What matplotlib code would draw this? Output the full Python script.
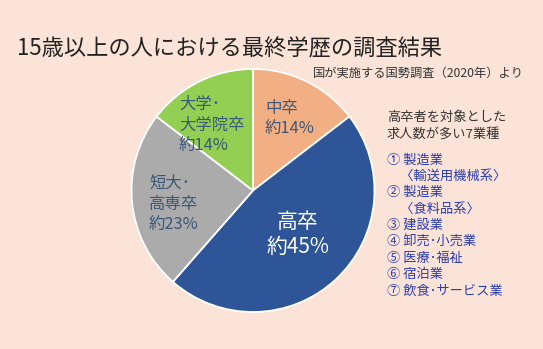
import matplotlib
matplotlib.use("Agg")
import matplotlib.pyplot as plt

plt.rcParams['font.family'] = ['Noto Sans CJK JP', 'DejaVu Sans']

# Education breakdown (percent) for people aged 15+
categories = ["中卒", "高卒", "短大･高専卒", "大学･大学院卒"]
values = [14, 45, 23, 14]
colors = ["#F2AF84", "#2D5597", "#ABABAB", "#92CF52"]

slice_labels = [
    ["中卒", "約14%"],
    ["高卒", "約45%"],
    ["短大･", "高専卒", "約23%"],
    ["大学･", "大学院卒", "約14%"],
]

title = "15歳以上の人における最終学歴の調査結果"
source = "国が実施する国勢調査（2020年）より"
note_lines = ["高卒者を対象とした", "求人数が多い7業種"]
industries = [
    "① 製造業",
    "　〈輸送用機械系〉",
    "② 製造業",
    "　〈食料品系〉",
    "③ 建設業",
    "④ 卸売･小売業",
    "⑤ 医療･福祉",
    "⑥ 宿泊業",
    "⑦ 飲食･サービス業",
]

W, H = 543, 349
BG = "#FBE4D7"
fig = plt.figure(figsize=(W / 100, H / 100), dpi=100, facecolor=BG)


def fx(x):
    return x / W


def fy(y):
    return 1 - y / H


# Pie
cx, cy, r = 253, 190.5, 121.5
ax = fig.add_axes([fx(cx - r), fy(cy + r), 2 * r / W, 2 * r / H])
ax.pie(values, colors=colors, startangle=90, counterclock=False,
       wedgeprops=dict(edgecolor="white", linewidth=1.3))
ax.set_xlim(-1, 1)
ax.set_ylim(-1, 1)
ax.axis("off")

# Title and source
fig.text(fx(17), fy(49), title, fontsize=16, color="#222222", va="center", ha="left")
fig.text(fx(524), fy(73), source, fontsize=8.8, color="#333333", va="center", ha="right")

# Slice labels
lab_col = "#3B5878"
specs = [
    (265, [108, 129], lab_col, 11.8, "left"),
    (298, [222, 247], "white", 15, "center"),
    (149, [183, 204, 225], lab_col, 11.8, "left"),
    (179, [104, 125, 146], lab_col, 11.8, "left"),
]
for lines, (x, ys, col, fs, ha) in zip(slice_labels, specs):
    for txt, y in zip(lines, ys):
        fig.text(fx(x), fy(y), txt, fontsize=fs, color=col, va="center", ha=ha)

# Industry note
for i, txt in enumerate(note_lines):
    fig.text(fx(387), fy(117 + i * 18), txt, fontsize=9.5, color="#333333", va="center")
for i, txt in enumerate(industries):
    fig.text(fx(387), fy(160 + i * 16.4), txt, fontsize=9.5, color="#2B3BB0", va="center")

fig.savefig("out.png", dpi=100, facecolor=BG)
